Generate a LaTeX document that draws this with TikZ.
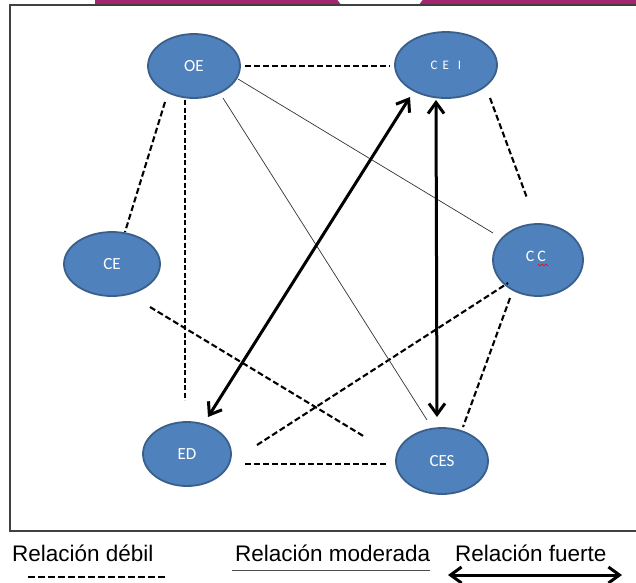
\documentclass[tikz,border=0pt]{standalone}
\usepackage{fontspec}
\setmainfont{Liberation Sans}
\newfontfamily\labfont{Carlito}
\usetikzlibrary{shapes.geometric,arrows.meta,calc}
\definecolor{nodeblue}{HTML}{4F81BD}
\definecolor{nodeedge}{HTML}{3A5F8B}
\definecolor{barmag}{HTML}{A3256E}
\definecolor{framegray}{HTML}{404040}
\begin{document}
\begin{tikzpicture}[x=1pt,y=-1pt,
  bubble/.style={ellipse, draw=nodeedge, line width=1.8pt, fill=nodeblue, inner sep=0pt,
    text=white, font=\labfont\fontsize{17}{17}\selectfont},
  weak/.style={line width=2.1pt, dash pattern=on 6pt off 3pt},
  weakthin/.style={line width=1.3pt, dash pattern=on 5pt off 2.5pt},
  moderate/.style={line width=0.7pt, black!80},
  strong/.style={line width=3pt, {Straight Barb[length=11pt,width=16pt]}-{Straight Barb[length=11pt,width=16pt]}},
  legend/.style={anchor=base west, inner sep=0pt, font=\fontsize{22.5}{26}\selectfont}]
\useasboundingbox (0,0) rectangle (636,582);
\fill[white] (0,0) rectangle (636,582);
% top bar
\fill[barmag] (95,0) rectangle (636,3.5);
\fill[white] (380,-30) circle[radius=52pt];
% frame
\draw[framegray, line width=1.5pt] (640,5) -- (10,5) -- (10,531) -- (640,531);

% nodes
\node[bubble, minimum width=92pt, minimum height=64pt] (OE) at (194,66) {OE};
\node[bubble, minimum width=102pt, minimum height=66pt, font=\labfont\fontsize{13}{13}\selectfont] (CEI) at (446,65) {C\hspace{5pt}E\hspace{9pt}I};
\node[bubble, minimum width=90pt, minimum height=72pt] (CC) at (538,260) {};
\node[text=white, font=\labfont\fontsize{16}{16}\selectfont, inner sep=0pt] (CCl) at (536,256) {C\hspace{3pt}C};
\draw[red, line width=0.6pt] (538,264) -- (540,266) -- (542,264) -- (544,266) -- (546,264) -- (548,266);
\node[bubble, minimum width=96pt, minimum height=64pt] (CE) at (112,264) {CE};
\node[bubble, minimum width=88pt, minimum height=64pt] (ED) at (187,454) {ED};
\node[bubble, minimum width=92pt, minimum height=66pt] (CES) at (442,461) {CES};

% weak relations
\draw[weak] ($(OE)+(51,0)$) -- ($(CEI)+(-56,1)$);
\draw[weak] ($(OE)+(-29,36)$) -- ($(CE)+(13,-32)$);
\draw[weakthin] ($(OE)+(-9,34)$) -- ($(ED)+(-2,-54)$);
\draw[weak] ($(CE)+(38,43)$) -- ($(CES)+(-77,-24)$);
\draw[weak] ($(ED)+(70,-9)$) -- ($(CC)+(-30,23)$);
\draw[weak] ($(ED)+(58,10)$) -- ($(CES)+(-54,3)$);
\draw[weak] ($(CEI)+(44,33)$) -- ($(CC)+(-11,-62)$);
\draw[weak] ($(CC)+(-28,38)$) -- ($(CES)+(21,-34)$);

% moderate relations
\draw[moderate] ($(OE)+(44,13)$) -- ($(CC)+(-45,-27)$);
\draw[moderate] ($(OE)+(29,32)$) -- ($(CES)+(-15,-41)$);

% strong relations
\draw[strong] ($(ED)+(21,-37)$) -- ($(CEI)+(-36,32)$);
\draw[strong] ($(CEI)+(-10,35)$) -- ($(CES)+(-5,-44)$);

% legend
\node[legend] (l1) at (12,561) {Relación débil};
\node[legend] (l2) at (235,561) {Relación moderada};
\node[legend] (l3) at (455,561) {Relación fuerte};
\coordinate (d1) at (28,577);
\coordinate (d2) at (168,577);
\coordinate (m1) at (232,570);
\coordinate (m2) at (430,570);
\coordinate (s1) at (448,575);
\coordinate (s2) at (622,575);
\draw[line width=1.8pt, dash pattern=on 7pt off 3pt] (d1) -- (d2);
\draw[line width=0.8pt, black!70] (m1) -- (m2);
\draw[strong] (s1) -- (s2);
\end{tikzpicture}
\end{document}
